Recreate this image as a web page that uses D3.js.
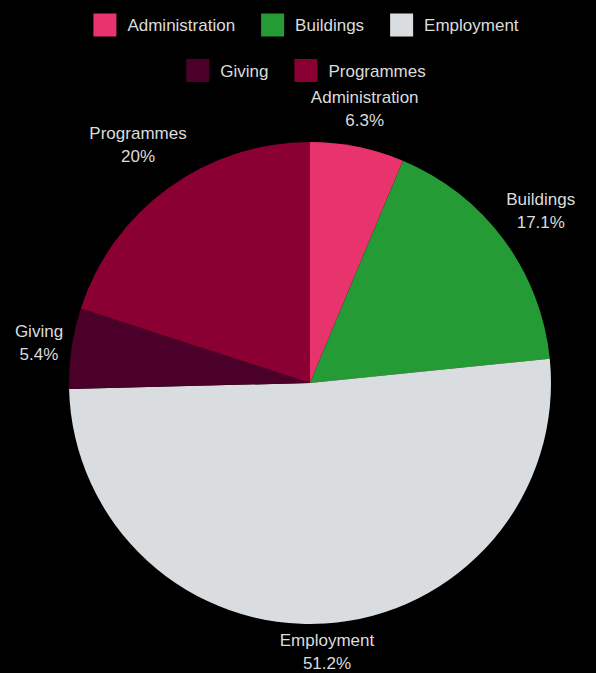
<!DOCTYPE html>
<html>
<head>
<meta charset="utf-8">
<script src="https://cdn.jsdelivr.net/npm/d3@7"></script>
<style>
  html, body { margin: 0; padding: 0; background: #000; }
  text { font-family: "Liberation Sans", Arial, sans-serif; fill: #dcdcdc; }
</style>
</head>
<body>
<div id="chart"></div>
<script>
var categories = ["Administration", "Buildings", "Employment", "Giving", "Programmes"];
var values = [6.3, 17.1, 51.2, 5.4, 20];
var labels = ["6.3%", "17.1%", "51.2%", "5.4%", "20%"];
var colours = ["#e8336c", "#259b35", "#d9dde0", "#4b0029", "#8a0033"];
var legendRows = [[0, 1, 2], [3, 4]];

var width = 596, height = 673;
var center = { x: 310, y: 383 };
var radius = 241;
var fontSize = 17;

var svg = d3.select("#chart")
  .append("svg")
    .attr("width", width)
    .attr("height", height);

svg.append("rect")
  .attr("width", width)
  .attr("height", height)
  .attr("fill", "#000");

// legend, two centred rows
var legend = svg.append("g").classed("legend", true);
var rowY = [25, 70.5];
var box = 23, boxGap = 11, itemGap = 26, legendMid = 306;

legendRows.forEach(function (row, r) {
  var g = legend.append("g");
  var x = 0;
  row.forEach(function (i) {
    var item = g.append("g").attr("transform", "translate(" + x + ",0)");
    item.append("rect")
      .attr("x", 0)
      .attr("y", rowY[r] - box / 2)
      .attr("width", box)
      .attr("height", box)
      .attr("fill", colours[i]);
    var t = item.append("text")
      .attr("x", box + boxGap)
      .attr("y", rowY[r] + 6)
      .attr("font-size", fontSize)
      .text(categories[i]);
    x += box + boxGap + t.node().getComputedTextLength() + itemGap;
  });
  var total = x - itemGap;
  g.attr("transform", "translate(" + (legendMid - total / 2) + ",0)");
});

// pie
var data = categories.map(function (c, i) {
  return { name: c, value: values[i], label: labels[i], colour: colours[i] };
});

var pie = d3.pie().sort(null).value(function (d) { return d.value; });
var arc = d3.arc().innerRadius(0).outerRadius(radius);

var root = svg.append("g")
  .attr("transform", "translate(" + center.x + "," + center.y + ")");

var arcs = pie(data);

root.selectAll("path.slice")
  .data(arcs)
  .enter().append("path")
    .classed("slice", true)
    .attr("d", arc)
    .attr("fill", function (d) { return d.data.colour; });

// labels: box centre on the mid-angle ray, box edge just clear of the arc
var lineGap = 23;
var gap = 6;
var labelGroups = root.selectAll("g.label")
  .data(arcs)
  .enter().append("g")
    .classed("label", true);

labelGroups.each(function (d) {
  var g = d3.select(this);
  var t1 = g.append("text")
    .attr("text-anchor", "middle")
    .attr("font-size", fontSize)
    .attr("y", 0)
    .text(d.data.name);
  g.append("text")
    .attr("text-anchor", "middle")
    .attr("font-size", fontSize)
    .attr("y", lineGap)
    .text(d.data.label);
  var w = t1.node().getComputedTextLength();
  var h = 42;
  var a = (d.startAngle + d.endAngle) / 2;
  var s = Math.sin(a), c = Math.cos(a);
  var r = radius + gap + Math.abs(s) * w / 2 + Math.abs(c) * h / 2;
  var cx = s * r, cy = -c * r;
  g.attr("transform", "translate(" + cx + "," + (cy - 7) + ")");
});
</script>
</body>
</html>
